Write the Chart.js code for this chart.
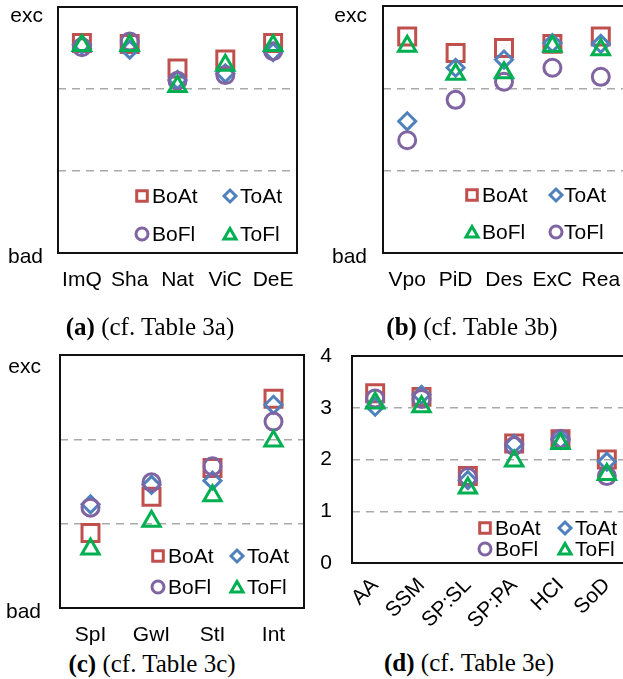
<!DOCTYPE html>
<html>
<head>
<meta charset="utf-8">
<script src="https://cdn.jsdelivr.net/npm/chart.js@4.4.1/dist/chart.umd.min.js"></script>
<style>
  html, body { margin: 0; padding: 0; background: #fff; overflow: hidden; width: 623px; height: 679px; }
  .panel { position: absolute; }
  .cap {
    position: absolute; white-space: nowrap; color: #000;
    font-family: "Liberation Serif", "Times New Roman", serif; font-size: 25px;
    transform: translate(-50%, -50%);
  }
</style>
</head>
<body>
<div class="panel" style="left:0;top:0;width:310px;height:300px"><canvas id="chartA"></canvas></div>
<div class="panel" style="left:310px;top:0;width:320px;height:300px"><canvas id="chartB"></canvas></div>
<div class="panel" style="left:0;top:340px;width:310px;height:310px"><canvas id="chartC"></canvas></div>
<div class="panel" style="left:310px;top:340px;width:330px;height:300px"><canvas id="chartD"></canvas></div>

<div class="cap" style="left:150px;top:327px"><b>(a)</b> (cf. Table 3a)</div>
<div class="cap" style="left:472px;top:327px"><b>(b)</b> (cf. Table 3b)</div>
<div class="cap" style="left:152px;top:664px"><b>(c)</b> (cf. Table 3c)</div>
<div class="cap" style="left:469px;top:663px"><b>(d)</b> (cf. Table 3e)</div>

<script>
// ─── Data ────────────────────────────────────────────────────────────────────

// (a) 0 = bad, 3 = exc
const catsA = ['ImQ', 'Sha', 'Nat', 'ViC', 'DeE'];
const boAtA = [2.56, 2.55, 2.25, 2.36, 2.56];
const toAtA = [2.54, 2.48, 2.11, 2.19, 2.45];
const boFlA = [2.51, 2.58, 2.10, 2.17, 2.46];
const toFlA = [2.53, 2.53, 2.03, 2.29, 2.53];

// (b) legend here pairs BoFl with the triangle and ToFl with the circle
const catsB = ['Vpo', 'PiD', 'Des', 'ExC', 'Rea'];
const boAtB = [2.63, 2.43, 2.49, 2.54, 2.63];
const toAtB = [1.60, 2.25, 2.35, 2.55, 2.54];
const boFlB = [2.51, 2.17, 2.19, 2.51, 2.47];
const toFlB = [1.37, 1.86, 2.08, 2.25, 2.14];

// (c)
const catsC = ['SpI', 'GwI', 'StI', 'Int'];
const boAtC = [0.89, 1.32, 1.66, 2.48];
const toAtC = [1.23, 1.46, 1.51, 2.41];
const boFlC = [1.19, 1.49, 1.68, 2.21];
const toFlC = [0.70, 1.03, 1.33, 1.98];

// (d) numeric scale 0..4
const catsD = ['AA', 'SSM', 'SP:SL', 'SP:PA', 'HCI', 'SoD'];
const boAtD = [3.28, 3.21, 1.68, 2.31, 2.39, 2.00];
const toAtD = [3.02, 3.25, 1.60, 2.30, 2.38, 1.96];
const boFlD = [3.18, 3.17, 1.66, 2.26, 2.40, 1.68];
const toFlD = [3.09, 3.02, 1.45, 1.97, 2.31, 1.71];

// ─── Style ───────────────────────────────────────────────────────────────────

const RED = '#C0504D', BLUE = '#4F81BD', PURPLE = '#8064A2', GREEN = '#00B050';
const SIZE = { rect: 12, rectRot: 8.5, circle: 8.5, triangle: 10 };
const LEG_SIZE = { rect: 7.5, rectRot: 6, circle: 6, triangle: 7 };
const FONT = '"Liberation Sans", Arial, sans-serif';

Chart.defaults.font.family = FONT;
Chart.defaults.font.size = 21;
Chart.defaults.color = '#000';

function serie(label, data, style, color, order) {
  return {
    label, data, order,
    pointStyle: style,
    pointRadius: SIZE[style],
    pointHoverRadius: SIZE[style],
    pointBorderWidth: 3,
    pointHoverBorderWidth: 3,
    pointBorderColor: color,
    pointBackgroundColor: 'rgba(0,0,0,0)',
    borderColor: color,
    showLine: false,
    clip: false,
  };
}

// frame around the plot area
const boxPlugin = {
  id: 'box',
  beforeDatasetsDraw(chart) {
    const { ctx, chartArea: a } = chart;
    ctx.save();
    ctx.setLineDash([]);
    ctx.lineWidth = 2;
    ctx.strokeStyle = '#111';
    ctx.strokeRect(a.left, a.top, a.right - a.left, a.bottom - a.top);
    ctx.restore();
  },
};

// 2x2 legend drawn inside the plot
const innerLegend = {
  id: 'innerLegend',
  afterDraw(chart, args, opts) {
    if (!opts || !opts.rows) return;
    const ctx = chart.ctx;
    ctx.save();
    ctx.font = '21px ' + FONT;
    ctx.textBaseline = 'middle';
    ctx.textAlign = 'left';
    chart.data.datasets.forEach((ds, i) => {
      const y = opts.rows[Math.floor(i / 2)];
      const col = opts.cols[i % 2];
      ctx.strokeStyle = ds.pointBorderColor;
      ctx.fillStyle = 'rgba(0,0,0,0)';
      ctx.lineWidth = 3;
      Chart.helpers.drawPoint(ctx, {
        pointStyle: ds.pointStyle, rotation: 0,
        radius: LEG_SIZE[ds.pointStyle], borderWidth: 3,
      }, col[0], ds.pointStyle === 'triangle' ? y + 1.5 : y);
      ctx.fillStyle = '#000';
      ctx.fillText(ds.label, col[1], y + 1);
    });
    ctx.restore();
  },
};

function makeChart(id, cats, sets, o) {
  return new Chart(document.getElementById(id), {
    type: 'line',
    data: { labels: cats, datasets: sets },
    options: {
      responsive: true,
      maintainAspectRatio: false,
      animation: false,
      events: [],
      layout: { autoPadding: false, padding: { left: 0, top: o.padTop, right: o.padRight, bottom: 0 } },
      plugins: {
        legend: { display: false },
        tooltip: { enabled: false },
        innerLegend: o.legend,
      },
      scales: {
        x: {
          type: 'category',
          offset: true,
          grid: { display: false, drawTicks: false },
          border: { display: false },
          ticks: { padding: o.xPad, minRotation: o.rot, maxRotation: o.rot, autoSkip: false },
          afterFit: (s) => { s.height = o.xHeight; s.paddingLeft = 0; s.paddingRight = 0; },
        },
        y: {
          min: 0,
          max: o.max,
          grid: {
            drawTicks: false,
            lineWidth: 1.5,
            color: (c) => (c.tick.value > 0 && c.tick.value < o.max) ? '#A9A9A9' : 'rgba(0,0,0,0)',
          },
          border: { display: false, dash: [8, 6] },
          ticks: {
            stepSize: 1,
            padding: o.yPad,
            labelOffset: o.yOff,
            callback: o.yLabel,
            // the top word sits a little lower than its tick: push it down as a 2nd line
            font: (c) => (o.topShift && c.tick && c.tick.value === o.max)
              ? { size: 21, lineHeight: (2 * o.topShift) + 'px' } : { size: 21 },
          },
          afterFit: (s) => { s.width = o.yWidth; s.paddingTop = 0; s.paddingBottom = 0; },
        },
      },
    },
    plugins: [boxPlugin, innerLegend],
  });
}

const qual = (v) => v === 0 ? 'bad' : v === 3 ? ['', 'exc'] : '';

makeChart('chartA', catsA, [
  serie('BoAt', boAtA, 'rect', RED, 4),
  serie('ToAt', toAtA, 'rectRot', BLUE, 3),
  serie('BoFl', boFlA, 'circle', PURPLE, 2),
  serie('ToFl', toFlA, 'triangle', GREEN, 1),
], { padTop: 7, padRight: 13, yWidth: 58, xHeight: 47, xPad: 15, yPad: 15, yOff: 4, topShift: 5, max: 3, rot: 0,
     yLabel: qual, legend: { rows: [196, 234], cols: [[142, 152], [230, 240]] } });

makeChart('chartB', catsB, [
  serie('BoAt', boAtB, 'rect', RED, 4),
  serie('ToAt', toAtB, 'rectRot', BLUE, 3),
  serie('BoFl', boFlB, 'triangle', GREEN, 1),
  serie('ToFl', toFlB, 'circle', PURPLE, 2),
], { padTop: 6, padRight: 5, yWidth: 73, xHeight: 47, xPad: 15, yPad: 16, yOff: 4, topShift: 6, max: 3, rot: 0,
     yLabel: qual, legend: { rows: [195, 232], cols: [[162, 172], [246, 254]] } });

makeChart('chartC', catsC, [
  serie('BoAt', boAtC, 'rect', RED, 4),
  serie('ToAt', toAtC, 'rectRot', BLUE, 3),
  serie('BoFl', boFlC, 'circle', PURPLE, 2),
  serie('ToFl', toFlC, 'triangle', GREEN, 1),
], { padTop: 15, padRight: 6, yWidth: 60, xHeight: 42, xPad: 15, yPad: 19, yOff: 4, topShift: 8, max: 3, rot: 0,
     yLabel: qual, legend: { rows: [216, 247], cols: [[158, 168], [237, 247]] } });

makeChart('chartD', catsD, [
  serie('BoAt', boAtD, 'rect', RED, 4),
  serie('ToAt', toAtD, 'rectRot', BLUE, 3),
  serie('BoFl', boFlD, 'circle', PURPLE, 2),
  serie('ToFl', toFlD, 'triangle', GREEN, 1),
], { padTop: 16, padRight: 10, yWidth: 42, xHeight: 77, xPad: 10, yPad: 20, yOff: 0, topShift: 0, max: 4, rot: 45,
     yLabel: (v) => v, legend: { rows: [188, 209], cols: [[175, 185], [255, 265]] } });
</script>
</body>
</html>
